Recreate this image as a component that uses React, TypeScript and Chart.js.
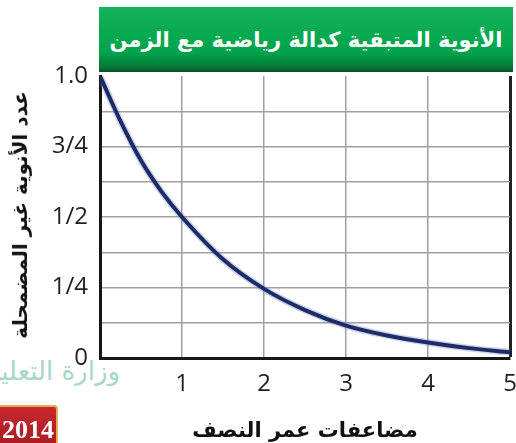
import React, { useEffect, useRef } from "react";
import { Chart, registerables } from "chart.js";

Chart.register(...registerables);

// Data
const halfLives = [0, 0.25, 0.5, 0.75, 1, 1.5, 2, 2.5, 3, 3.5, 4, 4.5, 5];
const remaining = [1, 0.84, 0.7, 0.59, 0.5, 0.35, 0.245, 0.17, 0.115, 0.08, 0.055, 0.035, 0.02];
const xTickLabels = ["", "1", "2", "3", "4", "5"];
const yTickValues = [0, 0.25, 0.5, 0.75, 1];
const yTickLabels = ["0", "1/4", "1/2", "3/4", "1.0"];

const titleText = "الأنوية المتبقية كدالة رياضية مع الزمن";
const yTitle = "عدد الأنوية غير المضمحلة";
const xTitle = "مضاعفات عمر النصف";

export default function App() {
  const canvasRef = useRef<HTMLCanvasElement | null>(null);

  useEffect(() => {
    document.body.style.margin = "0";
    const ctx = canvasRef.current;
    if (!ctx) return;
    const points = halfLives.map((x, i) => ({ x, y: remaining[i] }));
    const chart = new Chart(ctx, {
      type: "line",
      data: {
        datasets: [
          {
            data: points,
            borderColor: "#1f2b66",
            borderWidth: 4,
            pointRadius: 0,
            cubicInterpolationMode: "monotone",
            fill: false,
          },
          {
            data: points,
            borderColor: "rgba(110,140,210,0.35)",
            borderWidth: 7,
            pointRadius: 0,
            cubicInterpolationMode: "monotone",
            fill: false,
          },
        ],
      },
      options: {
        animation: false,
        responsive: false,
        maintainAspectRatio: false,
        layout: { autoPadding: false, padding: { top: 76, right: 6, bottom: 0, left: 0 } },
        plugins: { legend: { display: false }, tooltip: { enabled: false }, title: { display: false } },
        scales: {
          x: {
            type: "linear",
            min: 0,
            max: 5,
            afterFit: (s: any) => {
              s.height = 85;
              s.paddingLeft = 0;
              s.paddingRight = 0;
            },
            ticks: {
              stepSize: 1,
              padding: 12,
              color: "#231f20",
              font: { family: "Open Sans", size: 24 },
              maxRotation: 0,
              autoSkip: false,
              callback: (v: any) => xTickLabels[Math.round(Number(v))] ?? "",
            },
            grid: {
              drawTicks: false,
              color: (c: any) => (c.tick && c.tick.value === 5 ? "#222222" : "#a0a0a0"),
              lineWidth: (c: any) => (c.tick && c.tick.value === 5 ? 3 : 1.5),
            },
            border: { display: true, color: "#161616", width: 3 },
          },
          y: {
            min: 0,
            max: 1,
            afterFit: (s: any) => {
              s.width = 100;
              s.paddingTop = 0;
              s.paddingBottom = 0;
            },
            ticks: {
              stepSize: 0.125,
              padding: 12,
              color: "#231f20",
              font: { family: "Open Sans", size: 24 },
              autoSkip: false,
              callback: (v: any) => {
                const idx = yTickValues.findIndex((t) => Math.abs(t - Number(v)) < 1e-6);
                return idx >= 0 ? yTickLabels[idx] : "";
              },
            },
            grid: {
              drawTicks: false,
              color: (c: any) => (c.tick && c.tick.value >= 1 ? "rgba(0,0,0,0)" : "#a0a0a0"),
              lineWidth: 1.5,
            },
            border: { display: true, color: "#161616", width: 3 },
          },
        },
      },
    });
    return () => chart.destroy();
  }, []);

  return (
    <div style={{ position: "relative", width: 516, height: 443, background: "#fff", overflow: "hidden" }}>
      <div
        style={{
          position: "absolute",
          left: -60,
          top: 356,
          width: 180,
          textAlign: "right",
          direction: "rtl",
          fontFamily: "DejaVu Sans",
          fontSize: 26,
          color: "#a9d6cb",
          whiteSpace: "nowrap",
          overflow: "hidden",
        }}
      >
        وزارة التعليم
      </div>
      <canvas ref={canvasRef} width={516} height={443} style={{ position: "absolute", left: 0, top: 0 }} />
      <div
        style={{
          position: "absolute",
          left: 99,
          top: 7,
          width: 414,
          height: 65,
          background: "linear-gradient(to bottom, #13b358 0%, #00a34c 70%, #067a37 92%, #0a4f26 100%)",
          color: "#fff",
          display: "flex",
          alignItems: "center",
          justifyContent: "center",
          direction: "rtl",
          fontFamily: "DejaVu Sans",
          fontWeight: "bold",
          fontSize: 21,
          whiteSpace: "nowrap",
        }}
      >
        {titleText}
      </div>
      <div
        style={{
          position: "absolute",
          left: 20,
          top: 215,
          transform: "translate(-50%, -50%) rotate(-90deg)",
          direction: "rtl",
          fontFamily: "DejaVu Sans",
          fontWeight: "bold",
          fontSize: 20,
          color: "#111",
          whiteSpace: "nowrap",
        }}
      >
        {yTitle}
      </div>
      <div
        style={{
          position: "absolute",
          left: 305,
          top: 430,
          transform: "translate(-50%, -50%)",
          direction: "rtl",
          fontFamily: "DejaVu Sans",
          fontWeight: "bold",
          fontSize: 21,
          color: "#111",
          whiteSpace: "nowrap",
        }}
      >
        {xTitle}
      </div>
      <div
        style={{
          position: "absolute",
          left: -6,
          top: 405,
          width: 64,
          height: 44,
          background: "linear-gradient(to bottom, #c8282e, #a51d23)",
          border: "2px solid #e0b050",
          borderRadius: 4,
          color: "#fff",
          fontFamily: "Liberation Serif",
          fontWeight: "bold",
          fontSize: 26,
          paddingTop: 8,
          paddingLeft: 6,
          boxSizing: "border-box",
        }}
      >
        2014
      </div>
    </div>
  );
}
